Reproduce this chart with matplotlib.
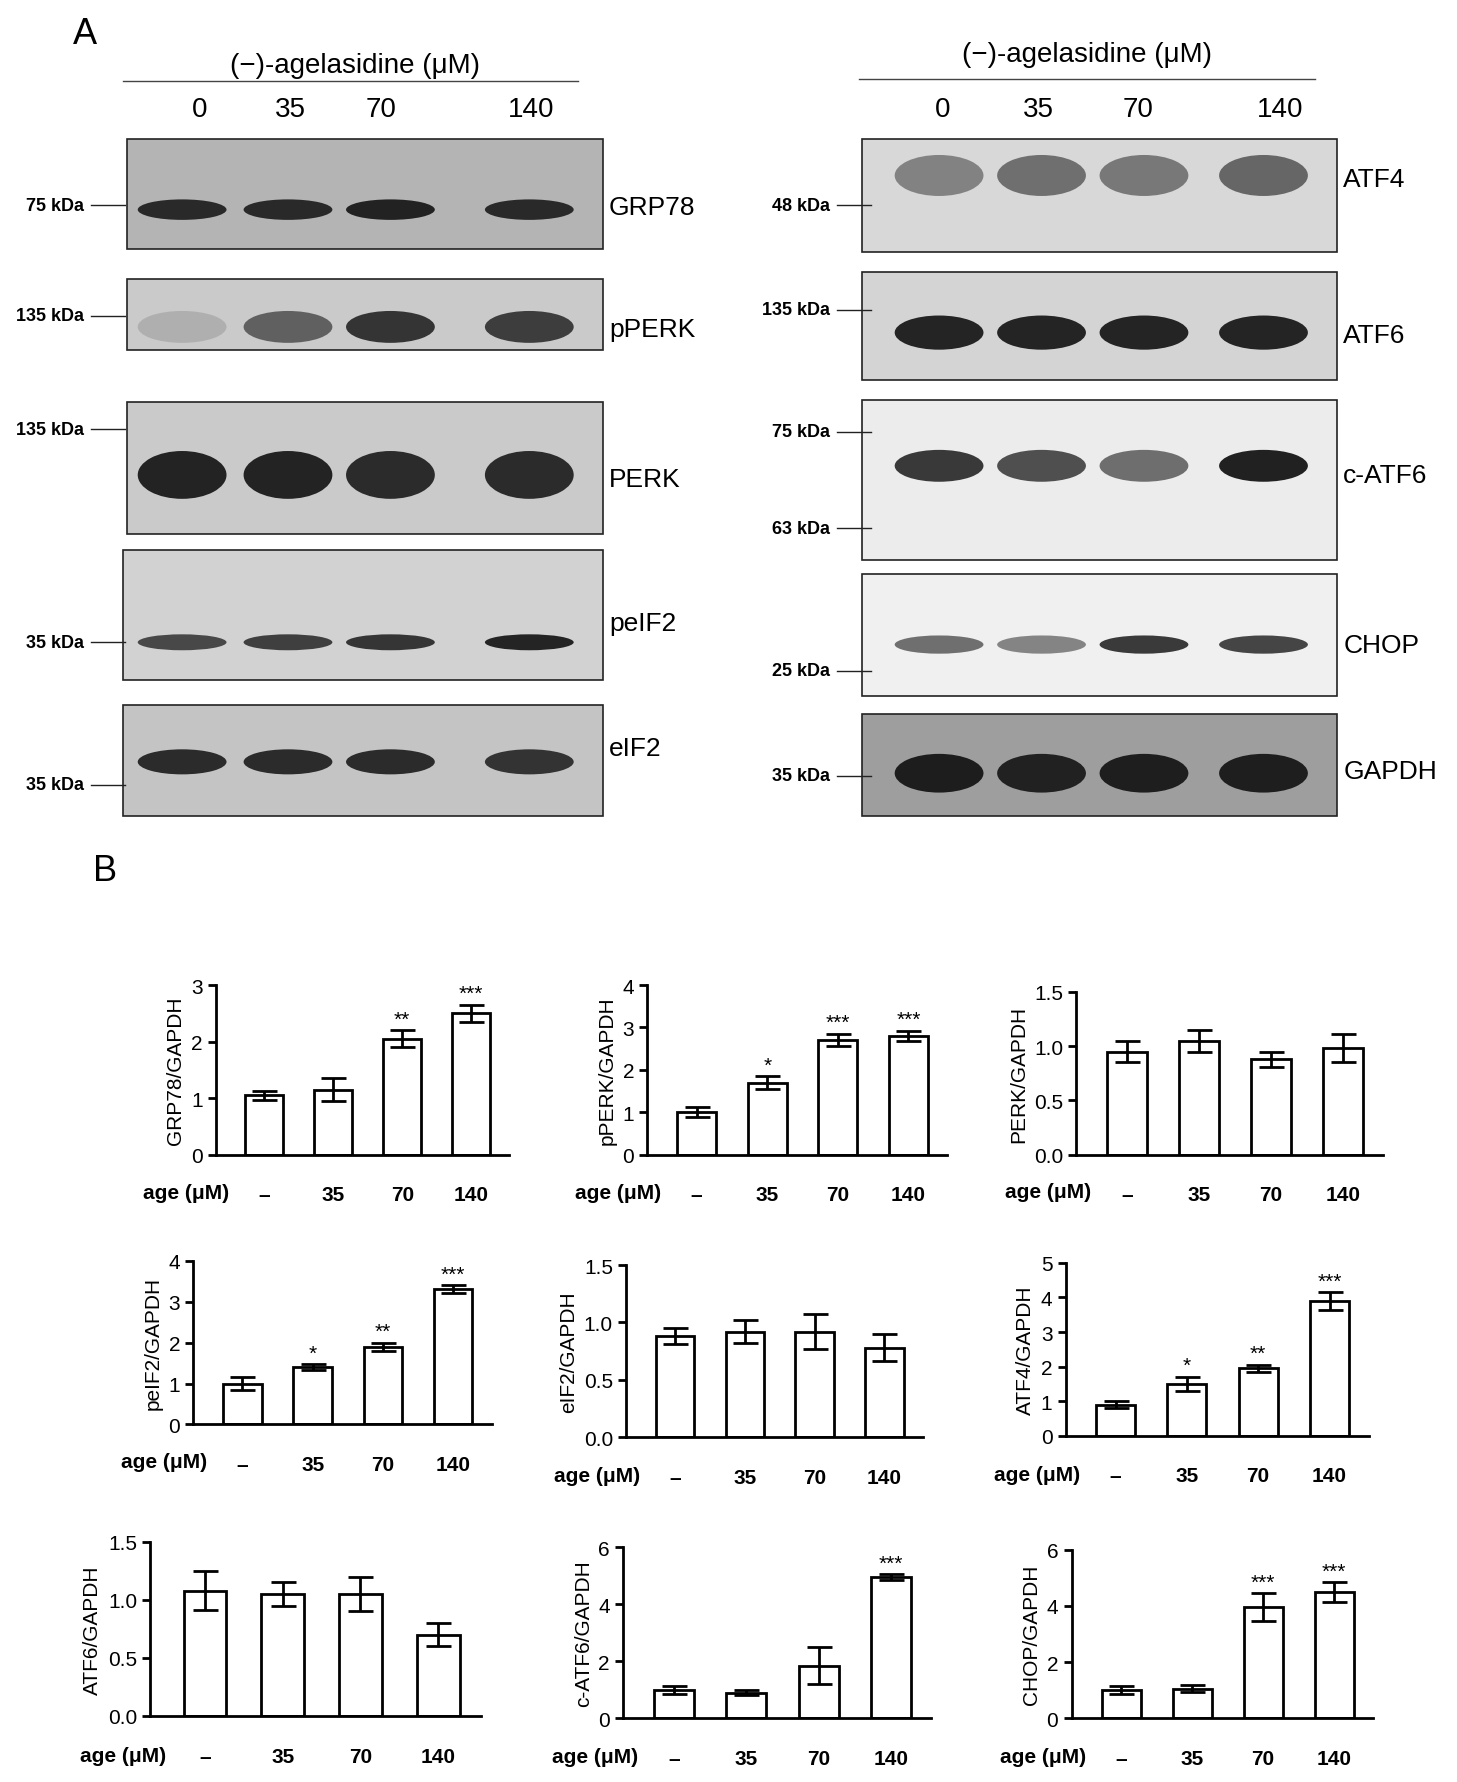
import numpy as np
import matplotlib.pyplot as plt
from matplotlib.patches import Rectangle, Ellipse

plt.rcParams['font.family'] = ['Liberation Sans', 'DejaVu Sans']

W, H = 1280, 1566
fig = plt.figure(figsize=(14.57, 17.83), dpi=100)
base = fig.add_axes([0, 0, 1, 1])
base.set_xlim(0, W)
base.set_ylim(H, 0)
base.axis('off')

lanes = ['0', '35', '70', '140']

# ---- blots: name, box (x0,y0,x1,y1), bg, band y, band height, band darkness per lane, markers, label y
left_lane_x = [160, 253, 343, 465]
right_lane_x = [825, 915, 1005, 1110]
left_blots = [
    ('GRP78', (112, 123, 530, 220), '#b4b4b4', 185, 18, [0.9, 0.9, 0.95, 0.9], [('75 kDa', 181)], 183),
    ('pPERK', (112, 246, 530, 308), '#cacaca', 288, 28, [0.15, 0.6, 0.85, 0.8], [('135 kDa', 278)], 290),
    ('PERK', (112, 354, 530, 470), '#cacaca', 418, 42, [0.95, 0.95, 0.9, 0.9], [('135 kDa', 378)], 422),
    ('peIF2', (108, 484, 530, 598), '#d2d2d2', 565, 14, [0.75, 0.8, 0.85, 0.95], [('35 kDa', 565)], 548),
    ('eIF2', (108, 620, 530, 718), '#c4c4c4', 670, 22, [0.9, 0.9, 0.9, 0.85], [('35 kDa', 690)], 658),
]
right_blots = [
    ('ATF4', (757, 123, 1175, 222), '#d8d8d8', 155, 36, [0.45, 0.55, 0.5, 0.6], [('48 kDa', 181)], 158),
    ('ATF6', (757, 240, 1175, 335), '#d4d4d4', 293, 30, [0.95, 0.95, 0.95, 0.95], [('135 kDa', 273)], 295),
    ('c-ATF6', (757, 352, 1175, 493), '#ececec', 410, 28, [0.85, 0.75, 0.6, 0.97], [('75 kDa', 380), ('63 kDa', 465)], 418),
    ('CHOP', (757, 505, 1175, 612), '#f0f0f0', 567, 16, [0.6, 0.5, 0.85, 0.8], [('25 kDa', 590)], 567),
    ('GAPDH', (757, 628, 1175, 718), '#9e9e9e', 680, 34, [0.98, 0.95, 0.97, 0.97], [('35 kDa', 682)], 678),
]


def draw_blots(blots, lane_x, mark_right):
    for name, (x0, y0, x1, y1), bg, by, bh, dark, marks, ly in blots:
        base.add_patch(Rectangle((x0, y0), x1 - x0, y1 - y0, fc=bg, ec='#222', lw=1.2))
        for lx, k in zip(lane_x, dark):
            base.add_patch(Ellipse((lx, by), 78, bh, fc=(0.1, 0.1, 0.1), alpha=k, lw=0))
        base.text(x1 + 5, ly, name, fontsize=19, va='center', ha='left')
        for lab, my in marks:
            base.text(mark_right - 26, my, lab, fontsize=13, fontweight='bold', ha='right', va='center')
            base.plot([mark_right - 20, mark_right + 10], [my, my], color='#222', lw=1)


draw_blots(left_blots, left_lane_x, 100)
draw_blots(right_blots, right_lane_x, 755)

base.text(312, 58, '(\u2212)-agelasidine (\u03bcM)', fontsize=20, ha='center', va='center')
base.plot([108, 508], [72, 72], color='#444', lw=1)
for lx, t in zip([175, 255, 335, 467], lanes):
    base.text(lx, 97, t, fontsize=20, ha='center', va='center')
base.text(955, 48, '(\u2212)-agelasidine (\u03bcM)', fontsize=20, ha='center', va='center')
base.plot([755, 1155], [70, 70], color='#444', lw=1)
for lx, t in zip([828, 912, 1000, 1125], lanes):
    base.text(lx, 97, t, fontsize=20, ha='center', va='center')

base.text(75, 30, 'A', fontsize=26, ha='center', va='center')
base.text(92, 765, 'B', fontsize=26, ha='center', va='center')

# ---- bar chart data
xticks = ['\u2013', '35', '70', '140']
charts = [
    ('GRP78/GAPDH', [1.05, 1.15, 2.05, 2.5], [0.08, 0.2, 0.15, 0.15], ['', '', '**', '***'], 3, [0, 1, 2, 3], False),
    ('pPERK/GAPDH', [1.0, 1.7, 2.7, 2.8], [0.12, 0.15, 0.15, 0.12], ['', '*', '***', '***'], 4, [0, 1, 2, 3, 4], False),
    ('PERK/GAPDH', [0.95, 1.05, 0.88, 0.98], [0.1, 0.1, 0.07, 0.13], ['', '', '', ''], 1.5, [0, 0.5, 1.0, 1.5], True),
    ('peIF2/GAPDH', [1.0, 1.4, 1.9, 3.3], [0.15, 0.07, 0.1, 0.1], ['', '*', '**', '***'], 4, [0, 1, 2, 3, 4], False),
    ('eIF2/GAPDH', [0.88, 0.92, 0.92, 0.78], [0.07, 0.1, 0.15, 0.12], ['', '', '', ''], 1.5, [0, 0.5, 1.0, 1.5], True),
    ('ATF4/GAPDH', [0.9, 1.5, 1.95, 3.9], [0.1, 0.2, 0.1, 0.25], ['', '*', '**', '***'], 5, [0, 1, 2, 3, 4, 5], False),
    ('ATF6/GAPDH', [1.08, 1.05, 1.05, 0.7], [0.17, 0.1, 0.15, 0.1], ['', '', '', ''], 1.5, [0, 0.5, 1.0, 1.5], True),
    ('c-ATF6/GAPDH', [1.0, 0.9, 1.85, 4.95], [0.15, 0.1, 0.65, 0.1], ['', '', '', '***'], 6, [0, 2, 4, 6], False),
    ('CHOP/GAPDH', [1.0, 1.05, 3.95, 4.5], [0.15, 0.12, 0.5, 0.35], ['', '', '***', '***'], 6, [0, 2, 4, 6], False),
]
# first bar x, last bar x, y top, y bottom (pixel positions in reference)
boxes = [
    (232, 414, 866, 1015), (612, 798, 866, 1015), (990, 1180, 872, 1015),
    (213, 398, 1108, 1252), (593, 777, 1112, 1263), (980, 1168, 1110, 1262),
    (180, 385, 1355, 1508), (592, 783, 1360, 1510), (985, 1172, 1362, 1510),
]

for (lab, vals, errs, stars, ymax, yt, dec), (b0, b3, yt0, yb) in zip(charts, boxes):
    s = (b3 - b0) / 3
    xl, xr = b0 - 0.7 * s, b3 + 0.55 * s
    ax = fig.add_axes([xl / W, 1 - yb / H, (xr - xl) / W, (yb - yt0) / H])
    x = np.arange(4)
    ax.bar(x, vals, width=0.55, color='white', edgecolor='black', lw=2,
           yerr=errs, capsize=9, error_kw=dict(elinewidth=2, capthick=2))
    ax.set_xlim(-0.7, 3.55)
    ax.set_ylim(0, ymax)
    ax.set_yticks(yt)
    if dec:
        ax.set_yticklabels(['%.1f' % v for v in yt])
    ax.set_xticks(x)
    ax.set_xticklabels(xticks, fontweight='bold')
    ax.tick_params(axis='x', length=0, pad=22, labelsize=15)
    ax.tick_params(axis='y', width=2, length=6, labelsize=15)
    for sp in ['top', 'right']:
        ax.spines[sp].set_visible(False)
    ax.spines['left'].set_linewidth(2)
    ax.spines['bottom'].set_linewidth(2)
    ax.set_ylabel(lab, fontsize=15, labelpad=4)
    for xi, v, e, st in zip(x, vals, errs, stars):
        if st:
            ax.text(xi, v + e + ymax * 0.01, st, ha='center', va='bottom', fontsize=15)
    ax.text(-0.5, -0.225, 'age (\u03bcM)', transform=ax.get_xaxis_transform(),
            ha='right', va='center', fontsize=15, fontweight='bold')

fig.savefig('out.png', dpi=100)
